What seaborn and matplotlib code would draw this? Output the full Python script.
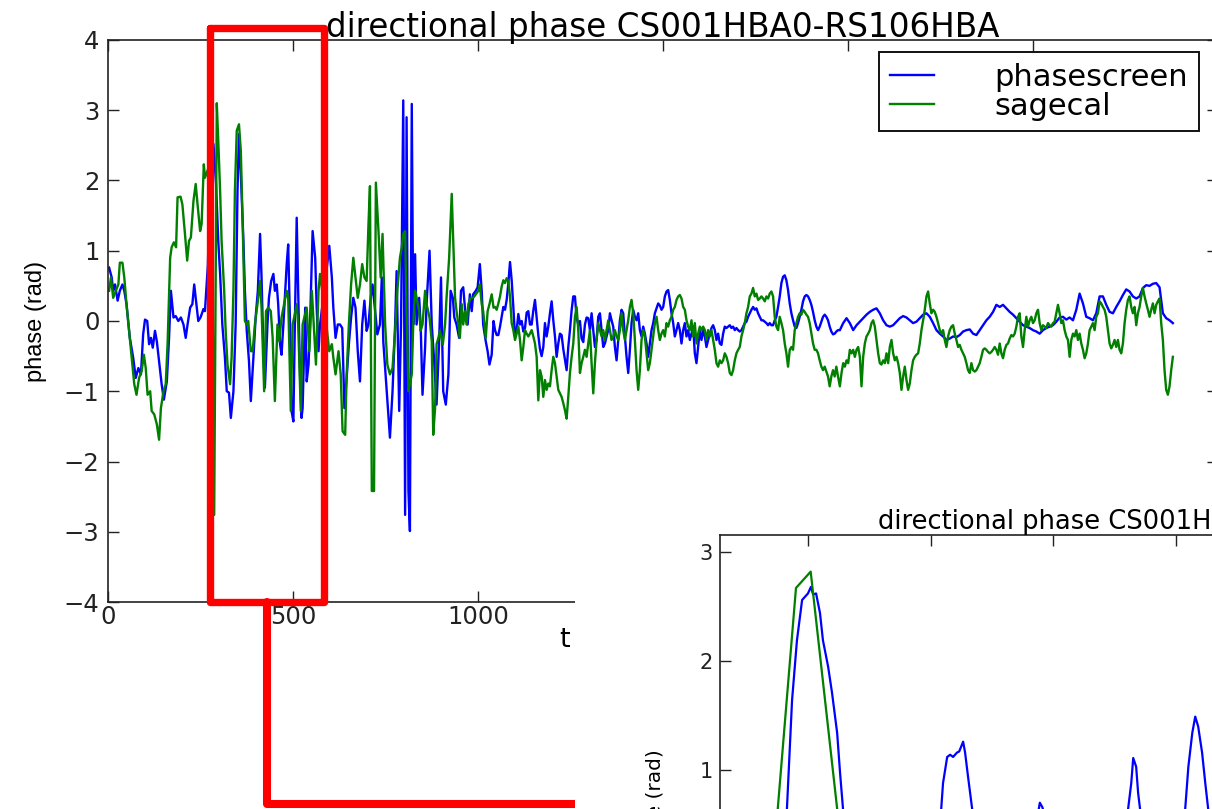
import numpy as np
import pandas as pd
import matplotlib
matplotlib.use("Agg")
import matplotlib.pyplot as plt
import seaborn as sns
from matplotlib.lines import Line2D
from matplotlib.patches import Rectangle

# ---------------- data ----------------
title = "directional phase CS001HBA0-RS106HBA"
series_names = ["phasescreen", "sagecal"]
series_colors = ["#0000ff", "#007f00"]
xlabel = "t"
ylabel = "phase (rad)"

blue_t_early = [3, 10, 14, 19, 26, 32, 39, 44, 50, 59, 68, 75, 82, 89, 95, 100, 106, 111, 116, 121,
                127, 132, 138, 145, 151, 159, 165, 170, 177, 183, 190, 197, 204, 210, 215, 222, 228, 233, 239, 244,
                250, 258, 262, 270, 278, 285, 292, 298, 303, 309, 316, 321, 327, 332, 339, 345, 350, 354, 359, 366,
                370, 375, 381, 386, 393, 399, 405, 411, 415, 420, 424, 431, 435, 441, 447, 451, 456, 460, 465, 469,
                474, 478, 483, 487, 492, 496, 501, 505, 510, 514, 519, 523, 526, 533, 537, 542, 546, 553, 560, 564,
                569, 573, 586, 598, 605, 609, 615, 621, 627, 633, 639, 645, 651, 657, 663, 669, 675, 681, 687, 693,
                699, 704, 710, 715, 722, 728, 735, 740, 744, 749, 755, 762, 769, 776, 780, 787, 792, 798, 803, 807,
                812, 816, 821, 825, 830, 834, 841, 845, 850, 857, 861, 869, 875, 881, 888, 895, 900, 906, 913, 920,
                926, 932, 936, 942, 949, 954, 960, 967, 972, 978, 983, 987, 994, 999, 1005, 1010, 1014, 1021, 1026, 1031,
                1037, 1042]
blue_early = [0.76, 0.62, 0.43, 0.52, 0.29, 0.43, 0.52, 0.43, 0.24, -0.24,
              -0.52, -0.81, -0.67, -0.76, -0.19, 0.02, 0.00, -0.33, -0.24, -0.38,
              -0.14, -0.29, -0.57, -0.90, -1.12, -0.86, -0.24, 0.43, 0.05, 0.07,
              0.00, 0.05, -0.05, -0.24, -0.05, 0.19, 0.24, 0.52, 0.24, 0.00,
              0.05, 0.17, 0.14, 0.80, 2.55, 2.52, 1.95, 1.14, 0.67, -0.05,
              -0.52, -1.00, -1.02, -1.38, -1.00, -0.05, 1.85, 2.66, 2.09, 1.14,
              0.43, -0.14, -0.57, -1.14, -0.52, 0.05, 0.43, 1.24, 0.62, -0.43,
              -0.95, -0.05, 0.33, 0.57, 0.67, 0.43, 0.52, 0.24, -0.33, -0.48,
              -0.05, 0.33, 0.81, 1.09, -0.05, -1.28, -1.43, -0.05, 1.47, 0.43,
              -0.76, -1.38, -1.24, 0.19, -0.86, -0.62, -0.05, 1.28, 0.90, 0.19,
              -0.43, -0.05, 0.50, 1.07, 0.62, 0.19, -0.24, -0.05, -0.05, -0.10,
              -1.24, -0.81, -0.33, 0.05, 0.33, 0.19, -0.43, -0.86, -0.05, 0.29,
              -0.14, -0.05, 0.33, 0.52, 0.14, -0.19, -0.05, 0.62, -0.29, -0.67,
              -1.14, -1.66, -1.00, -0.05, 0.71, -1.28, -0.05, 3.14, -2.76, 2.90,
              -2.42, -2.99, 3.09, -0.05, 0.95, -0.05, 0.33, -0.05, -1.05, -0.38,
              0.24, 1.00, -0.05, -0.52, -1.19, -0.29, 0.62, -1.00, -1.19, -0.76,
              0.43, 0.33, 0.05, -0.05, -0.24, 0.43, 0.48, 0.05, -0.05, 0.38,
              0.14, 0.38, 0.43, 0.48, 0.81, 0.43, -0.05, -0.29, -0.43, -0.62,
              -0.48, 0.00]

green_t_early = [3, 8, 14, 21, 28, 32, 39, 44, 50, 57, 64, 71, 77, 84, 91, 97, 102, 107, 114, 118,
                 125, 132, 138, 143, 150, 156, 161, 168, 172, 178, 184, 188, 196, 201, 208, 214, 219, 224, 231, 237,
                 242, 249, 253, 259, 262, 280, 287, 294, 298, 303, 307, 314, 318, 323, 330, 334, 339, 343, 348, 354,
                 359, 364, 370, 375, 379, 386, 391, 397, 404, 411, 415, 422, 427, 433, 440, 445, 451, 458, 463, 469,
                 476, 483, 487, 494, 499, 505, 510, 514, 521, 526, 537, 544, 551, 557, 562, 569, 573, 585, 598, 605,
                 609, 615, 623, 629, 634, 641, 645, 651, 657, 663, 669, 675, 681, 687, 693, 699, 704, 708, 713, 719,
                 724, 731, 737, 742, 749, 755, 762, 769, 776, 782, 789, 794, 798, 803, 807, 812, 816, 821, 825, 830,
                 834, 841, 845, 850, 857, 861, 869, 875, 879, 884, 888, 893, 897, 905, 911, 915, 922, 929, 933, 938,
                 942, 947, 951, 956, 960, 965, 969, 974, 980, 987, 994, 1001, 1005, 1010, 1014, 1021, 1026, 1031, 1037, 1042]
green_early = [0.43, 0.62, 0.33, 0.43, 0.52, 0.83, 0.83, 0.62, 0.24, -0.14,
               -0.52, -0.90, -1.05, -0.81, -0.71, -0.48, -0.67, -1.05, -1.00, -1.28,
               -1.33, -1.47, -1.69, -1.24, -1.00, -0.90, -0.33, 0.90, 1.05, 1.12,
               1.05, 1.76, 1.77, 1.66, 1.24, 0.86, 1.14, 1.19, 1.71, 1.95,
               1.66, 1.28, 1.38, 2.23, 2.04, 2.30, -2.76, 3.10, 2.57, 1.85,
               1.14, 0.43, -0.14, -0.62, -0.90, -0.52, 0.43, 1.85, 2.71, 2.80,
               2.42, 1.38, 0.00, -0.05, 0.00, -0.43, -0.43, -0.05, 0.24, 0.57,
               0.19, -1.00, 0.14, 0.19, 0.14, -0.24, -1.14, -0.05, -0.29, 0.05,
               0.24, 0.43, 0.33, -1.28, -0.05, 0.10, 0.24, -0.05, -1.28, -0.05,
               0.19, -0.43, 0.43, -0.14, -0.62, 0.43, 0.67, 0.20, -0.43, -0.33,
               -0.52, -0.76, -0.43, -0.76, -1.57, -1.62, -0.76, -0.05, 0.52, 0.90,
               0.62, 0.33, 0.52, 0.81, 0.62, 0.57, 1.38, 1.92, -2.42, -2.42,
               1.97, 1.28, 0.62, 1.24, -0.05, -0.62, -0.76, -0.67, -0.14, 0.43,
               0.90, 1.05, 1.24, 1.28, 0.14, -1.00, -0.90, -0.76, -0.05, 0.43,
               0.33, 0.14, -0.14, -0.05, 0.43, 0.24, 0.05, -0.29, -1.62, -1.24,
               -0.33, -0.24, -0.14, -0.33, -0.05, 0.33, 0.90, 1.81, 1.14, 0.33,
               0.14, -0.05, -0.24, 0.24, -0.05, 0.14, -0.05, 0.24, 0.33, 0.33,
               0.38, 0.43, 0.52, 0.24, 0.14, -0.24, 0.14, 0.24, 0.38, 0.19]

# uniformly sampled stretches (start time, sample spacing)
mid_t0, mid_dt = 1046, 4.5
blue_mid = [-0.13, -0.20, -0.20, -0.08, 0.06, 0.20, 0.16, 0.30, 0.54, 0.84,
            0.58, 0.20, -0.22, -0.13, 0.10, -0.05, 0.00, -0.15, -0.10, 0.12,
            0.14, -0.05, -0.05, 0.15, 0.30, 0.05, -0.20, -0.40, -0.50, -0.37,
            -0.03, -0.22, -0.08, 0.11, 0.28, 0.01, -0.22, -0.51, -0.32, -0.18,
            -0.20, -0.40, -0.55, -0.70, -0.37, -0.13, 0.15, 0.35, 0.35, 0.05,
            -0.05, 0.00, -0.25, -0.30, -0.05, 0.05, 0.04, -0.13, 0.11, -0.13,
            -0.37, -0.27, 0.06, 0.11, -0.13, -0.37, -0.32, -0.22, -0.13, 0.11,
            0.01, -0.08, -0.37, -0.56, -0.27, 0.01, 0.16, 0.11, -0.22, -0.51,
            -0.74, -0.41, -0.03, 0.16, 0.06, 0.01, 0.11, -0.13, -0.22, -0.08,
            -0.18, -0.32, -0.51, -0.32, -0.13, -0.03, 0.11, 0.18, 0.25, 0.22,
            0.16, 0.20, 0.35, 0.42, 0.44, 0.30, 0.11, -0.03, -0.22, -0.13,
            -0.03, -0.13, -0.32, -0.13, -0.03, -0.22, -0.13, -0.27, -0.18, -0.08,
            -0.46, -0.60, -0.37, -0.13, -0.27, -0.13, -0.22, -0.37, -0.27, -0.18,
            -0.10, -0.06, -0.13, -0.27, -0.18, -0.32, -0.34, -0.18, -0.08, -0.10,
            -0.08, -0.06, -0.10, -0.08, -0.13, -0.10, -0.13, -0.15, -0.13, -0.08,
            -0.03, -0.01, 0.06, 0.11, 0.16, 0.20, 0.16, 0.18, 0.11, 0.06,
            0.01, 0.01, -0.01, -0.03, -0.06, -0.03, -0.06, -0.06, 0.01, 0.06,
            0.20, 0.35, 0.54, 0.63, 0.65, 0.58, 0.44, 0.25, 0.11, 0.01,
            -0.08, -0.10, -0.03, 0.06, 0.16, 0.28, 0.35, 0.37, 0.35, 0.30,
            0.23, 0.13, 0.01, -0.08, -0.13, -0.08, -0.01, 0.06, 0.09, 0.06,
            0.01, -0.08, -0.15, -0.19, -0.18, -0.15, -0.13]
green_mid = [0.20, 0.16, 0.25, 0.35, 0.49, 0.58, 0.54, 0.61, 0.56, 0.35,
             -0.03, -0.13, -0.27, -0.18, -0.08, -0.27, -0.56, -0.37, -0.13, -0.18,
             -0.22, -0.18, -0.13, -0.22, -0.32, -0.51, -1.13, -0.70, -0.79, -1.08,
             -0.84, -0.98, -0.89, -0.93, -0.70, -0.51, -0.60, -0.79, -0.98, -1.03,
             -1.08, -1.17, -1.27, -1.39, -1.08, -0.74, -0.51, -0.32, 0.06, 0.20,
             -0.13, -0.74, -0.60, -0.51, -0.41, -0.51, -0.32, -0.13, -0.60, -1.03,
             -0.60, -0.27, -0.03, -0.13, -0.22, -0.13, -0.27, -0.13, 0.01, -0.13,
             -0.27, -0.22, -0.13, -0.22, -0.27, -0.13, 0.11, -0.13, -0.27, -0.13,
             0.01, 0.20, 0.30, 0.11, -0.27, -0.70, -0.98, -0.70, -0.27, -0.13,
             -0.22, -0.46, -0.70, -0.60, -0.41, -0.22, -0.03, 0.06, -0.13, -0.27,
             -0.18, -0.13, -0.22, -0.03, -0.08, 0.01, 0.06, 0.16, 0.20, 0.30,
             0.35, 0.37, 0.32, 0.20, 0.16, 0.01, -0.08, -0.13, 0.01, -0.22,
             -0.03, -0.32, -0.18, -0.08, -0.13, -0.08, -0.13, -0.27, -0.13, -0.22,
             -0.13, -0.27, -0.41, -0.60, -0.65, -0.56, -0.60, -0.56, -0.46, -0.51,
             -0.60, -0.74, -0.77, -0.70, -0.56, -0.46, -0.41, -0.37, -0.22, -0.13,
             -0.03, 0.11, 0.20, 0.35, 0.39, 0.47, 0.35, 0.39, 0.30, 0.32,
             0.35, 0.32, 0.28, 0.35, 0.32, 0.39, 0.42, 0.35, 0.06, -0.08,
             -0.13, 0.06, -0.03, -0.13, -0.32, -0.46, -0.65, -0.41, -0.37, -0.41,
             -0.13, -0.03, 0.06, 0.11, 0.09, 0.16, 0.13, 0.09, 0.06, -0.03,
             -0.18, -0.32, -0.41, -0.41, -0.46, -0.56, -0.65, -0.70, -0.65, -0.72,
             -0.79, -0.93, -0.79, -0.70, -0.79, -0.65, -0.79]

late_t0 = 1978
late_dt_blue, late_dt_green = 9.0, 4.5
blue_late = [-0.13, -0.03, 0.04, -0.03, -0.13, -0.06, -0.01, 0.04, 0.09, 0.13,
             0.16, 0.18, 0.11, 0.01, -0.06, -0.08, -0.06, -0.01, 0.04, 0.07,
             0.05, 0.01, -0.03, -0.01, 0.04, 0.09, 0.11, 0.06, -0.03, -0.13,
             -0.18, -0.22, -0.27, -0.25, -0.22, -0.23, -0.20, -0.15, -0.13, -0.12,
             -0.18, -0.20, -0.13, -0.06, 0.01, 0.06, 0.13, 0.23, 0.20, 0.23,
             0.18, 0.13, 0.09, 0.04, -0.01, -0.06, -0.08, -0.10, -0.13, -0.15,
             -0.18, -0.13, -0.10, -0.08, -0.06, -0.01, 0.05, 0.06, 0.02, 0.05,
             0.01, 0.16, 0.39, 0.25, 0.06, 0.04, 0.01, 0.11, 0.35, 0.35,
             0.23, 0.13, 0.11, 0.20, 0.28, 0.37, 0.45, 0.42, 0.35, 0.32,
             0.35, 0.47, 0.51, 0.50, 0.53, 0.54, 0.48, 0.11, 0.04, 0.01,
             -0.03]
green_late = [-0.93, -0.74, -0.60, -0.65, -0.56, -0.60, -0.41, -0.46, -0.41, -0.51,
              -0.41, -0.37, -0.51, -0.93, -0.51, -0.32, -0.22, -0.18, -0.13, -0.03,
              0.01, -0.08, -0.27, -0.46, -0.60, -0.62, -0.56, -0.60, -0.46, -0.60,
              -0.37, -0.27, -0.46, -0.56, -0.51, -0.60, -0.74, -0.98, -0.79, -0.65,
              -0.84, -0.98, -0.89, -0.70, -0.56, -0.51, -0.48, -0.46, -0.32, -0.13,
              0.01, 0.16, 0.35, 0.42, 0.25, 0.11, 0.16, 0.13, 0.06, -0.03,
              -0.13, -0.18, -0.13, -0.27, -0.37, -0.22, -0.13, -0.08, -0.06, -0.18,
              -0.27, -0.37, -0.34, -0.41, -0.46, -0.51, -0.60, -0.70, -0.74, -0.60,
              -0.70, -0.72, -0.70, -0.65, -0.60, -0.51, -0.41, -0.39, -0.41, -0.44,
              -0.46, -0.44, -0.41, -0.37, -0.41, -0.48, -0.32, -0.46, -0.53, -0.41,
              -0.34, -0.32, -0.25, -0.20, -0.22, -0.18, -0.08, 0.06, 0.11, -0.22,
              -0.37, -0.13, 0.06, -0.08, 0.01, 0.06, -0.03, 0.01, 0.11, 0.16,
              -0.03, -0.13, -0.06, -0.08, -0.10, -0.03, -0.06, -0.08, -0.03, -0.01,
              0.11, 0.23, 0.11, -0.03, 0.01, -0.13, -0.22, -0.27, -0.51, -0.27,
              -0.18, -0.22, -0.13, -0.27, -0.18, -0.32, -0.41, -0.53, -0.46, -0.32,
              -0.13, -0.08, -0.03, -0.13, 0.06, 0.11, 0.28, 0.25, 0.20, 0.16,
              0.06, -0.13, -0.32, -0.39, -0.34, -0.27, -0.37, -0.27, -0.41, -0.46,
              -0.32, -0.03, 0.16, 0.30, 0.35, 0.20, 0.11, 0.20, -0.06, 0.11,
              0.20, 0.35, 0.47, 0.35, 0.25, 0.16, 0.06, 0.16, 0.25, 0.11,
              0.23, 0.28, 0.32, -0.03, -0.27, -0.70, -0.98, -1.05, -0.93, -0.70,
              -0.51]

# zoomed-in inset (finer sampling of the boxed interval)
inset_t_blue = [320, 330, 338, 341.3, 343.4, 345.4, 347.5, 348.7, 349.9, 351.1, 352, 353.2, 354.8, 356,
                358.1, 359.7, 361.8, 363, 364.2, 367, 375, 386, 395, 401, 403.5, 405, 406.7, 407.9,
                409.1, 410.7, 411.6, 413.2, 414, 415.2, 416.9, 419, 424, 431, 437, 443, 444.5, 445.5,
                447, 452, 460, 469, 474, 479, 480.5, 481.8, 482.6, 483.8, 484.6, 485.4, 488, 496,
                501, 503.8, 505.1, 506.7, 507.9, 509.1, 510.7, 512, 513.2, 516, 520, 530]
inset_blue = [-0.3, -1.2, -0.4, 0.64, 1.64, 2.19, 2.56, 2.59, 2.62, 2.68, 2.61, 2.62, 2.44, 2.19,
              1.95, 1.71, 1.34, 0.97, 0.64, 0.0, -0.3, -1.1, -0.5, 0.0, 0.4, 0.88, 1.12, 1.14,
              1.12, 1.16, 1.17, 1.26, 1.16, 0.94, 0.64, 0.0, -0.9, 0.0, 0.4, 0.5, 0.70, 0.66,
              0.55, 0.4, 0.2, -0.5, 0.0, 0.3, 0.64, 0.88, 1.11, 1.03, 0.79, 0.64, 0.2, -1.3,
              -0.5, 0.64, 1.03, 1.34, 1.49, 1.40, 1.16, 0.88, 0.64, 0.0, -0.8, -1.0]
inset_t_green = [314, 320, 327, 333, 345, 351, 365, 372, 386, 404, 411, 422, 440, 451, 469, 483,
                 494, 505, 510, 521, 530]
inset_green = [0.4, -0.2, -0.9, -0.6, 2.67, 2.82, 0.0, -0.1, -0.4, 0.2, 0.5, -1.0, 0.1, -1.1, 0.0, 0.4,
               -1.2, 0.1, 0.2, -1.2, 0.0]

main_xticks = [0, 500, 1000, 1500, 2000, 2500]
main_xticklabels = ["0", "500", "1000", "", "", ""]   # later labels lie under the inset panel
main_yticks = [-4, -3, -2, -1, 0, 1, 2, 3, 4]
inset_xticks = [350, 400, 450, 500, 550, 600, 650]
inset_yticks = [1, 2, 3]

# red highlight box (main-axes data units) and its connector
zoom_box_t = (275, 584)
zoom_box_y = (-4.0, 4.17)
connector_t = 430
connector_y = -6.875
connector_end_t = 1700

# ---------------- build frames ----------------
def stretch(t0, dt, n):
    return t0 + dt * np.arange(n)

bt = np.concatenate([blue_t_early, stretch(mid_t0, mid_dt, len(blue_mid)),
                     stretch(late_t0, late_dt_blue, len(blue_late))])
bv = np.concatenate([blue_early, blue_mid, blue_late])
gt = np.concatenate([green_t_early, stretch(mid_t0, mid_dt, len(green_mid)),
                     stretch(late_t0, late_dt_green, len(green_late))])
gv = np.concatenate([green_early, green_mid, green_late])

df_main = pd.concat([
    pd.DataFrame({"t": bt, "phase": bv, "series": series_names[0]}),
    pd.DataFrame({"t": gt, "phase": gv, "series": series_names[1]}),
], ignore_index=True)
df_inset = pd.concat([
    pd.DataFrame({"t": inset_t_blue, "phase": inset_blue, "series": series_names[0]}),
    pd.DataFrame({"t": inset_t_green, "phase": inset_green, "series": series_names[1]}),
], ignore_index=True)

# ---------------- style ----------------
plt.rcParams["font.family"] = ["DejaVu Sans"]
plt.rcParams["axes.linewidth"] = 1.2
plt.rcParams["axes.edgecolor"] = "#222222"

W, H = 1212, 809
fig = plt.figure(figsize=(W / 100, H / 100), dpi=100)
fig.patch.set_facecolor("white")

# ---------------- main axes ----------------
ax = fig.add_axes([108 / W, (H - 602) / H, 1110 / W, 562 / H])
sns.lineplot(data=df_main, x="t", y="phase", hue="series", hue_order=series_names,
             palette=series_colors, estimator=None, sort=False, linewidth=1.7,
             ax=ax, legend=False)
ax.set_xlim(0, 3000)
ax.set_ylim(-4, 4)
ax.set_xticks(main_xticks)
ax.set_xticklabels(main_xticklabels)
ax.set_yticks(main_yticks)
ax.tick_params(direction="in", top=True, right=True, length=8, width=1.0,
               labelsize=17.5, colors="#222222")
ax.tick_params(axis="x", pad=2)
ax.tick_params(axis="y", pad=6)
ax.set_title(title, fontsize=23.5, pad=2)
ax.set_xlabel(xlabel, fontsize=19.5, va="top")
ax.xaxis.set_label_coords((565 - 108) / 1110, -0.045)
ax.set_ylabel(ylabel, fontsize=17, labelpad=12, family=["Liberation Sans", "DejaVu Sans"])

handles = [Line2D([], [], color=c, lw=1.7) for c in series_colors]
leg = ax.legend(handles, series_names, loc="upper right",
                bbox_to_anchor=(1199 / W, 1 - 52 / H), bbox_transform=fig.transFigure,
                fontsize=22, frameon=True, fancybox=False, framealpha=1,
                edgecolor="#111111", borderpad=0.35, labelspacing=0.0,
                handlelength=1.44, handletextpad=2.0, borderaxespad=0)
leg.get_frame().set_linewidth(1.4)

# red highlight overlay
bx0, bx1 = zoom_box_t
by0, by1 = zoom_box_y
ax.add_line(Line2D([bx0, bx1, bx1, bx0, bx0], [by1, by1, by0, by0, by1], color="#ff0000",
                   lw=5.3, solid_joinstyle="round", solid_capstyle="round",
                   clip_on=False, zorder=10))
ax.add_line(Line2D([connector_t, connector_t, connector_end_t], [by0, connector_y, connector_y],
                   color="#ff0000", lw=5.8, solid_joinstyle="round", solid_capstyle="round",
                   clip_on=False, zorder=10))

# white panel under inset
fig.add_artist(Rectangle((575 / W, 0), (W - 575) / W, (H - 490) / H,
                         transform=fig.transFigure, facecolor="white",
                         edgecolor="none", zorder=2))

# ---------------- inset axes ----------------
ax2 = fig.add_axes([720 / W, (H - 1087) / H, 848 / W, 552 / H], zorder=3)
ax2.set_facecolor("white")
sns.lineplot(data=df_inset, x="t", y="phase", hue="series", hue_order=series_names,
             palette=series_colors, estimator=None, sort=False, linewidth=1.6,
             ax=ax2, legend=False)
ax2.set_xlim(314, 660)
ax2.set_ylim(-1.908, 3.156)
ax2.set_xticks(inset_xticks)
ax2.set_yticks(inset_yticks)
ax2.tick_params(direction="in", top=True, right=True, length=8, width=1.0,
                labelsize=15, colors="#222222", pad=5, labelbottom=False)
ax2.set_title(title, fontsize=18.5, pad=3)
ax2.set_xlabel("")
ax2.set_ylabel(ylabel, fontsize=14.5)
ax2.yaxis.set_label_coords((665 - 720) / 848, (1087 - 808) / 552)

fig.savefig("out.png", dpi=100, facecolor="white")
